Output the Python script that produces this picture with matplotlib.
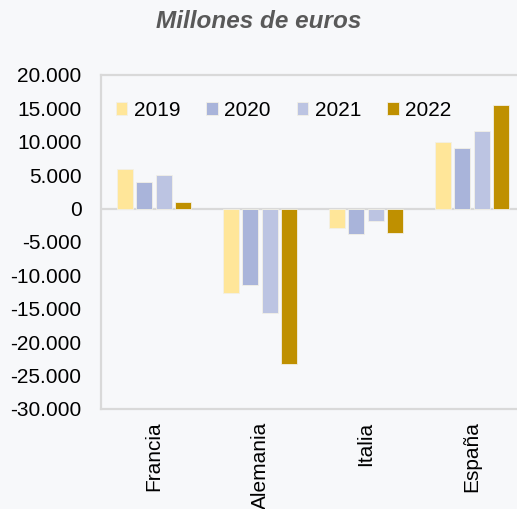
import numpy as np
import matplotlib.pyplot as plt

plt.rcParams['font.family'] = ['Liberation Sans', 'DejaVu Sans']

paises = ['Francia', 'Alemania', 'Italia', 'España']
anios = ['2019', '2020', '2021', '2022']
v2019 = [5900, -12600, -2900, 9900]
v2020 = [4000, -11400, -3800, 9100]
v2021 = [5000, -15700, -1900, 11600]
v2022 = [950, -23300, -3700, 15500]
colores = ['#FFE699', '#A9B4DA', '#BCC4E2', '#BF9000']
yticks = [20000, 15000, 10000, 5000, 0, -5000, -10000, -15000, -20000, -25000, -30000]

bg = '#F7F8FA'
fig = plt.figure(figsize=(5.17, 5.09), dpi=100, facecolor=bg)
ax = fig.add_axes([101/517, 100/509, 424/517, 334/509], facecolor=bg)

x = np.arange(len(paises))
paso = 0.183
ancho = 0.148
for i, (serie, nombre) in enumerate(zip([v2019, v2020, v2021, v2022], anios)):
    ax.bar(x + (i - 1.5) * paso, serie, ancho, color=colores[i], label=nombre,
           edgecolor='#F2F0E6', linewidth=0.6, zorder=3)

ax.set_xlim(-0.5, 3.5)
ax.set_ylim(-30000, 20000)
ax.set_yticks(yticks)
ax.set_yticklabels(['{:,}'.format(t).replace(',', '.') for t in yticks], fontsize=15)
ax.set_xticks(x)
ax.set_xticklabels(paises, rotation=90, fontsize=15)
ax.tick_params(length=0)
ax.tick_params(axis='y', pad=14)
ax.tick_params(axis='x', pad=9)
ax.axhline(0, color='#D9D9D9', linewidth=1.6, zorder=2)
for s in ax.spines.values():
    s.set_color('#D9D9D9')
    s.set_linewidth(1.6)

ax.legend(loc='upper left', bbox_to_anchor=(-0.014, 0.985), ncol=4, frameon=False,
          fontsize=15, handlelength=0.55, handleheight=0.55, handletextpad=0.3,
          columnspacing=1.26, borderaxespad=0.6)

fig.text(259/517, 1 - 22/509, 'Millones de euros', ha='center', va='center',
         fontsize=17.5, fontweight='bold', fontstyle='italic', color='#595959')

fig.savefig('out.png', dpi=100, facecolor=bg)
